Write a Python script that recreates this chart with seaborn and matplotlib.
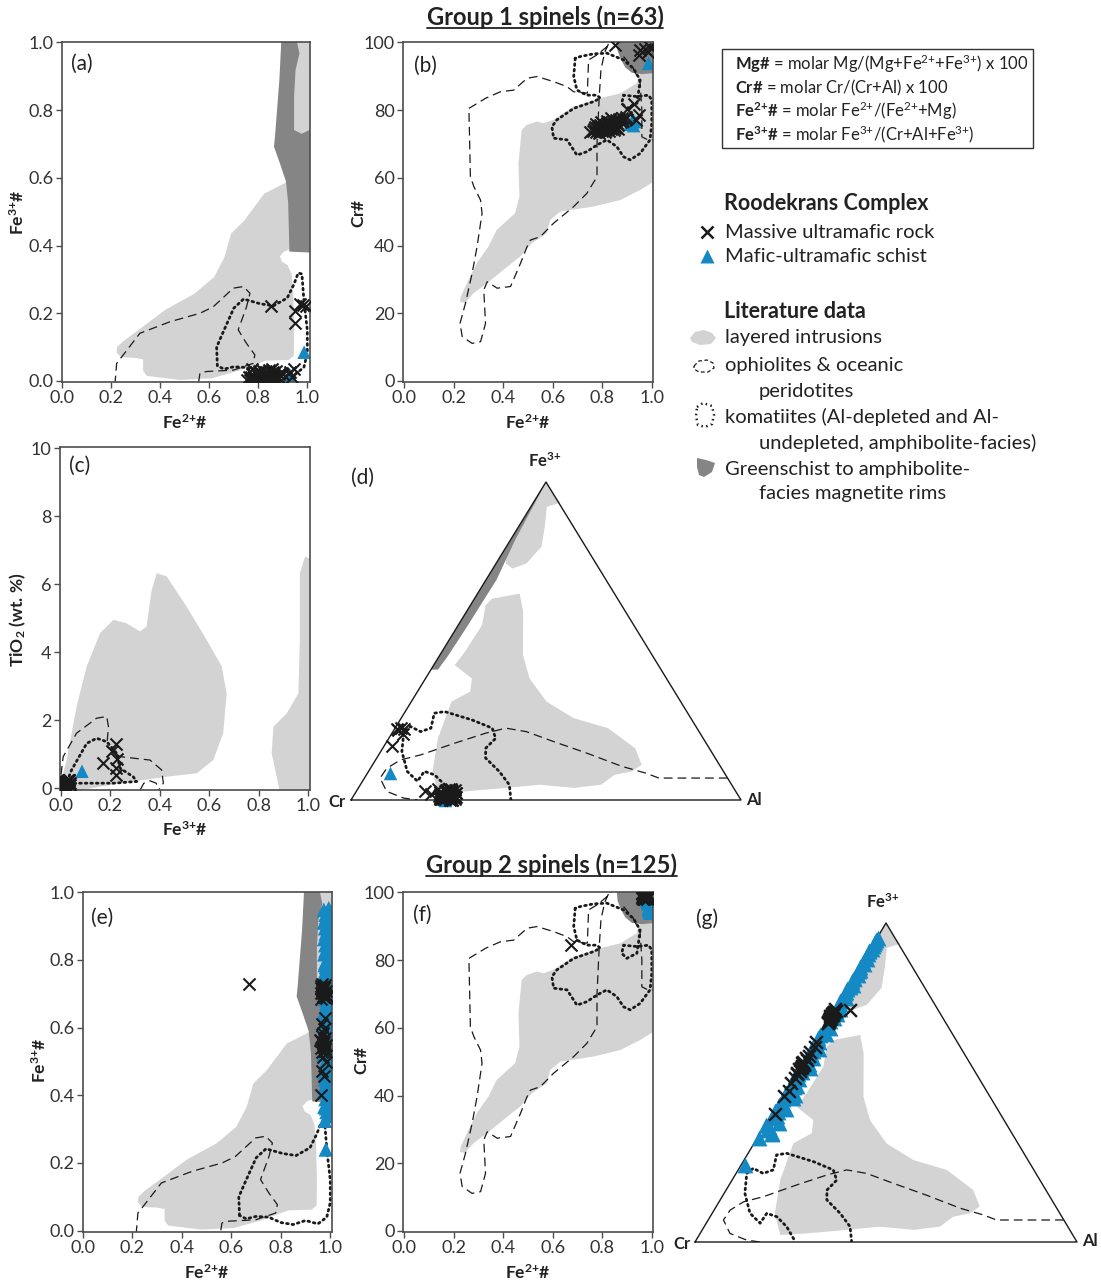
import numpy as np
import pandas as pd
import matplotlib
matplotlib.use("Agg")
import matplotlib.pyplot as plt
import seaborn as sns
from matplotlib.patches import Polygon, Rectangle

# ---------------------------------------------------------------------------
# Roodekrans Complex spinel analyses
# ---------------------------------------------------------------------------
# Group 1 spinels - massive ultramafic rock
g1_mur_fe2 = [0.752, 0.761, 0.768, 0.774, 0.779, 0.783, 0.786, 0.790, 0.793, 0.797,
              0.801, 0.804, 0.807, 0.811, 0.814, 0.818, 0.821, 0.824, 0.828, 0.831,
              0.834, 0.838, 0.842, 0.845, 0.849, 0.852, 0.856, 0.861, 0.865, 0.869,
              0.874, 0.879, 0.884, 0.891, 0.897, 0.776, 0.795, 0.812, 0.829, 0.847,
              0.862, 0.803, 0.788, 0.836, 0.857, 0.771, 0.819,
              0.902, 0.928, 0.947, 0.938,
              0.852, 0.948, 0.951, 0.972, 0.993, 0.984]
g1_mur_fe3 = [0.004, 0.012, 0.002, 0.021, 0.008, 0.015, 0.001, 0.026, 0.006, 0.018,
              0.010, 0.003, 0.024, 0.013, 0.031, 0.007, 0.019, 0.000, 0.028, 0.011,
              0.016, 0.005, 0.033, 0.009, 0.022, 0.014, 0.002, 0.027, 0.017, 0.006,
              0.030, 0.012, 0.020, 0.004, 0.025, 0.035, 0.003, 0.010, 0.023, 0.001,
              0.015, 0.029, 0.008, 0.018, 0.034, 0.013, 0.006,
              0.020, 0.028, 0.035, 0.012,
              0.222, 0.208, 0.170, 0.226, 0.221, 0.224]
g1_mur_cr = [73.4, 73.9, 74.5, 73.6, 74.8, 75.3, 74.1, 75.7, 74.4, 75.1,
             73.8, 76.0, 74.9, 75.5, 74.2, 76.3, 75.0, 74.6, 76.6, 75.4,
             74.3, 76.0, 75.2, 76.9, 75.7, 74.8, 77.1, 76.2, 75.6, 77.4,
             76.5, 77.8, 76.9, 77.3, 78.0, 75.9, 76.4, 73.5, 73.7, 74.0,
             74.5, 74.7, 73.2, 77.6, 75.1, 74.9, 76.8,
             80.2, 81.8, 78.6, 77.2,
             99.2, 96.3, 97.6, 98.1, 98.6, 97.0]
g1_mur_ti = [0.05, 0.12, 0.03, 0.18, 0.08, 0.15, 0.02, 0.21, 0.06, 0.10,
             0.14, 0.04, 0.19, 0.09, 0.24, 0.07, 0.16, 0.01, 0.22, 0.11,
             0.13, 0.05, 0.25, 0.08, 0.17, 0.12, 0.03, 0.20, 0.14, 0.06,
             0.23, 0.10, 0.18, 0.04, 0.21, 0.15, 0.02, 0.09, 0.19, 0.03,
             0.11, 0.22, 0.07, 0.16, 0.13, 0.10, 0.05,
             0.15, 0.20, 0.10, 0.08,
             1.30, 1.10, 0.75, 0.85, 0.60, 0.40]

# Group 1 spinels - mafic-ultramafic schist
g1_sch_fe2 = [0.918, 0.924, 0.912, 0.931, 0.927, 0.987]
g1_sch_fe3 = [0.004, 0.010, 0.001, 0.016, 0.007, 0.085]
g1_sch_cr = [76.2, 77.1, 75.8, 76.6, 75.4, 93.8]
g1_sch_ti = [0.05, 0.12, 0.15, 0.08, 0.02, 0.50]

# Group 2 spinels - massive ultramafic rock
g2_mur_fe2 = [0.962, 0.975, 0.968, 0.981, 0.971, 0.966, 0.978, 0.963, 0.984, 0.970,
              0.974, 0.960, 0.979, 0.967, 0.972, 0.976, 0.965, 0.980, 0.961, 0.973,
              0.969, 0.977, 0.964, 0.982, 0.970, 0.966, 0.975, 0.961, 0.979, 0.968,
              0.983, 0.972, 0.963, 0.977, 0.969, 0.974, 0.985, 0.967, 0.976, 0.964,
              0.673]
g2_mur_fe3 = [0.402, 0.458, 0.472, 0.498, 0.513, 0.527, 0.536, 0.541, 0.548, 0.552,
              0.557, 0.563, 0.569, 0.576, 0.584, 0.597, 0.612, 0.628, 0.686, 0.691,
              0.695, 0.699, 0.703, 0.707, 0.711, 0.714, 0.718, 0.722, 0.725, 0.729,
              0.688, 0.702, 0.716, 0.545, 0.555, 0.531, 0.694, 0.708, 0.721, 0.560,
              0.728]
g2_mur_cr = [98.6, 99.2, 98.1, 99.5, 98.8, 99.0, 98.3, 99.6, 98.9, 99.3,
             98.5, 99.7, 98.2, 99.1, 98.7, 99.4, 98.0, 99.2, 98.4, 99.5,
             98.9, 99.0, 98.6, 99.8, 98.3, 99.1, 98.8, 99.4, 98.0, 99.6,
             98.5, 99.3, 98.7, 99.0, 98.2, 99.5, 98.9, 99.2, 98.4, 99.7,
             84.5]

# Group 2 spinels - mafic-ultramafic schist
g2_sch_fe2 = [0.982, 0.978, 0.991, 0.985, 0.976, 0.993, 0.981, 0.988, 0.975, 0.990,
              0.984, 0.979, 0.994, 0.977, 0.986, 0.992, 0.980, 0.989, 0.974, 0.987,
              0.995, 0.983, 0.978, 0.991, 0.976, 0.985, 0.993, 0.980, 0.988, 0.975,
              0.990, 0.982, 0.996, 0.979, 0.986, 0.977, 0.992, 0.984, 0.981, 0.989,
              0.974, 0.994, 0.983, 0.978, 0.987, 0.991, 0.976, 0.985, 0.993, 0.980,
              0.988, 0.975, 0.990, 0.982, 0.996, 0.979, 0.986, 0.977, 0.992, 0.984,
              0.981, 0.989, 0.974, 0.994, 0.983, 0.978, 0.987, 0.991, 0.976, 0.985,
              0.993, 0.980, 0.988, 0.975, 0.990, 0.982, 0.996, 0.979, 0.986, 0.977,
              0.992, 0.984, 0.981, 0.989]
g2_sch_fe3 = [0.240, 0.325, 0.338, 0.351, 0.366, 0.372, 0.389, 0.394, 0.412, 0.418,
              0.431, 0.447, 0.452, 0.468, 0.474, 0.489, 0.497, 0.512, 0.521, 0.533,
              0.546, 0.552, 0.567, 0.578, 0.584, 0.598, 0.606, 0.619, 0.627, 0.641,
              0.652, 0.663, 0.671, 0.684, 0.692, 0.705, 0.716, 0.724, 0.738, 0.745,
              0.757, 0.766, 0.779, 0.785, 0.798, 0.806, 0.817, 0.823, 0.836, 0.844,
              0.853, 0.862, 0.871, 0.878, 0.886, 0.894, 0.903, 0.911, 0.918, 0.927,
              0.934, 0.941, 0.948, 0.953, 0.362, 0.428, 0.487, 0.557, 0.608, 0.674,
              0.731, 0.792, 0.849, 0.912, 0.343, 0.409, 0.461, 0.528, 0.589, 0.648,
              0.701, 0.769, 0.828, 0.889]
g2_sch_cr = [98.7, 99.1, 95.2, 97.8, 99.4, 94.6, 98.3, 97.1, 99.5, 95.0,
             97.9, 98.8, 94.3, 99.2, 97.4, 95.5, 98.5, 96.9, 99.6, 97.2,
             94.1, 98.0, 99.0, 95.3, 99.3, 97.6, 94.8, 98.4, 97.0, 99.4,
             95.4, 98.1, 94.2, 98.9, 97.5, 99.1, 95.1, 97.7, 98.2, 96.8,
             99.5, 94.5, 98.0, 99.0, 97.3, 95.2, 99.2, 97.9, 94.7, 98.6,
             97.0, 99.3, 95.6, 98.3, 94.0, 98.8, 97.4, 99.1, 95.0, 97.8,
             98.2, 96.9, 99.5, 94.4, 98.1, 98.9, 97.2, 95.3, 99.3, 97.6,
             94.9, 98.5, 97.1, 99.4, 95.5, 98.0, 94.3, 98.7, 97.5, 99.0,
             95.1, 97.8, 98.4, 96.7]

# ---------------------------------------------------------------------------
# Literature fields
# ---------------------------------------------------------------------------
# Fe2+# vs Fe3+#
fe_layered = [(0.224, 0.100), (0.250, 0.118), (0.310, 0.150), (0.420, 0.210), (0.540, 0.258),
              (0.620, 0.307), (0.662, 0.366), (0.689, 0.435), (0.743, 0.474), (0.824, 0.553),
              (0.905, 0.583), (0.935, 0.600), (0.935, 0.390), (0.905, 0.382), (0.888, 0.368),
              (0.897, 0.352), (0.920, 0.342), (0.936, 0.315), (0.943, 0.250), (0.946, 0.150),
              (0.945, 0.075), (0.925, 0.062), (0.830, 0.060), (0.720, 0.030), (0.610, 0.008),
              (0.480, 0.003), (0.345, 0.015), (0.330, 0.030), (0.330, 0.064), (0.300, 0.068),
              (0.240, 0.070), (0.222, 0.084)]
fe_layered_top = [(0.952, 1.02), (0.968, 0.967), (0.952, 0.918), (0.946, 0.840), (0.946, 0.741),
                  (0.977, 0.730), (1.02, 0.745), (1.02, 1.02)]
fe_rims = [(0.895, 1.02), (0.886, 0.889), (0.868, 0.721), (0.864, 0.692), (0.888, 0.643),
           (0.913, 0.589), (0.922, 0.525), (0.927, 0.382), (1.02, 0.379), (1.02, 1.02)]
fe_ophiolite = [(0.215, -0.01), (0.222, 0.052), (0.249, 0.077), (0.317, 0.141), (0.440, 0.175),
                (0.562, 0.200), (0.616, 0.219), (0.698, 0.274), (0.739, 0.279), (0.766, 0.259),
                (0.752, 0.219), (0.718, 0.151), (0.752, 0.111), (0.786, 0.077), (0.779, 0.052),
                (0.698, 0.032), (0.589, 0.028), (0.562, 0.023), (0.555, -0.01)]
fe_komatiite = [(0.633, 0.045), (0.630, 0.100), (0.660, 0.150), (0.700, 0.215), (0.740, 0.242),
                (0.808, 0.228), (0.862, 0.222), (0.918, 0.245), (0.945, 0.285), (0.963, 0.319),
                (0.978, 0.316), (0.986, 0.239), (1.000, 0.150), (1.000, 0.083), (0.986, 0.040),
                (0.950, 0.020), (0.900, 0.030), (0.850, 0.018), (0.800, 0.024), (0.750, 0.040),
                (0.700, 0.042), (0.660, 0.035), (0.633, 0.045)]

# Fe2+# vs Cr#
cr_layered = [(0.226, 23.4), (0.229, 24.9), (0.260, 29.8), (0.293, 34.7), (0.341, 39.7),
              (0.374, 44.6), (0.448, 49.5), (0.466, 54.4), (0.462, 64.3), (0.475, 74.1),
              (0.495, 75.6), (0.536, 76.6), (0.563, 76.1), (0.603, 77.1), (0.684, 81.0),
              (0.791, 83.5), (0.872, 84.9), (0.939, 87.9), (0.953, 90.8), (1.02, 91.3),
              (1.02, 59.4), (0.953, 56.4), (0.872, 53.4), (0.764, 51.5), (0.630, 50.0),
              (0.590, 47.5), (0.583, 45.6), (0.576, 43.6), (0.515, 40.6), (0.468, 36.7),
              (0.401, 32.8), (0.334, 28.8), (0.280, 25.9), (0.246, 23.0)]
cr_rims = [(0.858, 101), (0.862, 97.5), (0.875, 95.0), (0.893, 92.6), (0.920, 91.0),
           (0.960, 90.6), (1.02, 91.0), (1.02, 101)]
cr_ophiolite = [(0.262, 80.5), (0.330, 83.5), (0.389, 85.4), (0.443, 85.9), (0.497, 89.4),
                (0.537, 89.9), (0.604, 88.4), (0.658, 86.9), (0.685, 85.4), (0.740, 85.0),
                (0.745, 94.8), (0.779, 96.3), (0.819, 98.7), (0.848, 101), (0.834, 101),
                (0.810, 97.0), (0.795, 92.0), (0.788, 84.0), (0.779, 70.0), (0.779, 60.3),
                (0.738, 55.4), (0.685, 51.5), (0.604, 46.6), (0.550, 42.6), (0.510, 41.6),
                (0.497, 39.7), (0.470, 34.7), (0.430, 27.9), (0.376, 27.4), (0.336, 29.3),
                (0.322, 26.9), (0.329, 17.0), (0.309, 11.6), (0.275, 11.1), (0.235, 13.1),
                (0.226, 17.0), (0.248, 22.9), (0.275, 31.8), (0.295, 39.7), (0.315, 49.5),
                (0.309, 53.4), (0.282, 57.4), (0.268, 60.3), (0.262, 80.5)]
cr_ophiolite_b = [(0.886, 95.8), (0.926, 92.3), (0.953, 88.0), (0.960, 80.0), (0.960, 72.1),
                  (0.990, 71.0), (1.02, 71.5)]
cr_komatiite = [(0.691, 95.3), (0.685, 89.9), (0.698, 85.9), (0.738, 84.4), (0.779, 84.4),
                (0.792, 83.5), (0.765, 82.5), (0.685, 80.5), (0.617, 77.1), (0.597, 75.1),
                (0.604, 71.7), (0.658, 71.2), (0.698, 66.7), (0.738, 67.7), (0.779, 69.7),
                (0.819, 71.2), (0.859, 69.2), (0.886, 66.2), (0.913, 65.3), (0.953, 67.2),
                (0.993, 71.2), (1.000, 76.0), (1.000, 83.0), (0.987, 84.4), (0.940, 84.0),
                (0.886, 84.4), (0.879, 82.0), (0.899, 80.5), (0.940, 82.0), (0.946, 84.9),
                (0.953, 88.9), (0.926, 92.3), (0.886, 94.8), (0.819, 96.8), (0.765, 96.6),
                (0.711, 95.8), (0.691, 95.3)]

# Fe3+# vs TiO2
ti_layered = [(0.003, -0.1), (0.003, 0.3), (0.023, 0.83), (0.063, 2.40), (0.104, 3.58),
              (0.158, 4.56), (0.212, 4.95), (0.265, 4.85), (0.319, 4.61), (0.346, 4.75),
              (0.367, 5.83), (0.387, 6.32), (0.427, 6.23), (0.508, 5.34), (0.589, 4.36),
              (0.650, 3.58), (0.670, 2.79), (0.656, 1.62), (0.616, 0.83), (0.549, 0.44),
              (0.427, 0.34), (0.292, 0.20), (0.158, 0.05), (0.050, -0.1)]
ti_layered_b = [(0.885, -0.1), (0.852, 1.03), (0.859, 1.81), (0.913, 2.20), (0.960, 2.79),
                (0.966, 4.36), (0.966, 6.32), (0.987, 6.81), (1.02, 6.70), (1.02, -0.1)]
ti_ophiolite = [(0.000, 0.40), (0.009, 0.93), (0.063, 1.62), (0.144, 2.06), (0.185, 2.11),
                (0.192, 1.81), (0.185, 1.23), (0.239, 0.93), (0.360, 0.83), (0.407, 0.54),
                (0.414, 0.15), (0.395, -0.05)]
ti_ophiolite_b = [(0.320, -0.05), (0.335, 0.15), (0.360, 0.22), (0.385, 0.15), (0.395, -0.05)]
ti_komatiite = [(0.016, 0.05), (0.043, 0.54), (0.104, 1.32), (0.144, 1.47), (0.185, 1.37),
                (0.225, 1.03), (0.239, 0.59), (0.292, 0.34), (0.306, 0.20), (0.212, 0.15),
                (0.063, 0.15), (0.030, 0.08), (0.016, 0.05)]

# Cr - Al - Fe3+ ternary, given as (Fe3+, Al) molar fractions
tern_layered = [(0.633, 0.045), (0.649, 0.108), (0.591, 0.146), (0.456, 0.213), (0.382, 0.267),
                (0.309, 0.347), (0.257, 0.443), (0.226, 0.546), (0.163, 0.647), (0.111, 0.690),
                (0.090, 0.675), (0.079, 0.636), (0.048, 0.617), (0.038, 0.553), (0.048, 0.460),
                (0.038, 0.378), (0.027, 0.279), (0.022, 0.212), (0.090, 0.164), (0.194, 0.126),
                (0.309, 0.103), (0.341, 0.135), (0.382, 0.119), (0.424, 0.054), (0.466, 0.059),
                (0.550, 0.061), (0.612, 0.039)]
tern_layered_top = [(1.000, 0.000), (0.950, 0.050), (0.935, 0.070), (0.922, 0.041), (0.860, 0.067),
                    (0.797, 0.090), (0.744, 0.078), (0.728, 0.050), (0.744, 0.025), (0.780, 0.010),
                    (0.850, 0.004), (0.950, 0.000)]
tern_rims = [(0.410, 0.000), (0.410, 0.018), (0.451, 0.022), (0.545, 0.025), (0.629, 0.026),
             (0.692, 0.027), (0.750, 0.020), (0.818, 0.012), (0.943, 0.004), (1.000, 0.000)]
tern_ophiolite = [(0.069, 0.931), (0.069, 0.755), (0.085, 0.712), (0.106, 0.641), (0.147, 0.532),
                  (0.184, 0.427), (0.215, 0.342), (0.226, 0.284), (0.210, 0.240), (0.179, 0.177),
                  (0.142, 0.108), (0.126, 0.064), (0.100, 0.042), (0.069, 0.040), (0.027, 0.078),
                  (0.006, 0.132), (0.000, 0.170)]
tern_komatiite = [(0.000, 0.410), (0.048, 0.382), (0.090, 0.335), (0.132, 0.279), (0.163, 0.264),
                  (0.194, 0.274), (0.226, 0.249), (0.252, 0.184), (0.278, 0.101), (0.273, 0.077),
                  (0.226, 0.092), (0.215, 0.071), (0.231, 0.037), (0.215, 0.028), (0.153, 0.054),
                  (0.090, 0.099), (0.059, 0.141), (0.090, 0.143), (0.079, 0.175), (0.048, 0.216),
                  (0.000, 0.263)]

# ---------------------------------------------------------------------------
W, H, DPI = 1101, 1285, 100
LIGHT = "#d3d3d3"
DARK = "#858585"
BLUE = "#1489c4"
INK = "#1a1a1a"
AXC = "#4d4d4d"

sns.set_style("ticks")
plt.rcParams["font.family"] = ["Lato", "DejaVu Sans"]
plt.rcParams["mathtext.fontset"] = "custom"
plt.rcParams["mathtext.rm"] = "Lato"
plt.rcParams["mathtext.bf"] = "Lato:bold"
plt.rcParams["mathtext.it"] = "Lato:italic"
plt.rcParams["text.color"] = "#222222"

fig = plt.figure(figsize=(W / DPI, H / DPI), dpi=DPI)

# overlay in pixel units for headings, labels and the key (drawn above the panels)
ov = fig.add_axes([0, 0, 1, 1], zorder=10)
ov.set_xlim(0, W)
ov.set_ylim(H, 0)
ov.axis("off")


def panel(left, top, width, height):
    return fig.add_axes([left / W, 1 - (top + height) / H, width / W, height / H], zorder=2)


def pts(pairs):
    a = np.asarray(pairs, dtype=float)
    return a[:, 0], a[:, 1]


def fill(ax, pairs, color, z=1):
    x, y = pts(pairs)
    ax.fill(x, y, color=color, lw=0, zorder=z)


def dashed(ax, pairs):
    x, y = pts(pairs)
    ax.plot(x, y, color=INK, lw=0.9, ls=(0, (7, 4)), zorder=3)


def dotted(ax, pairs):
    x, y = pts(pairs)
    ax.plot(x, y, color=INK, lw=2.0, ls=(0, (0.6, 1.4)), dash_capstyle="round", zorder=3)


def style_box(ax, xlim, ylim, xticks, yticks, xfmt, yfmt):
    ax.set_xlim(*xlim)
    ax.set_ylim(*ylim)
    ax.set_xticks(xticks)
    ax.set_yticks(yticks)
    ax.set_xticklabels([xfmt.format(v) for v in xticks])
    ax.set_yticklabels([yfmt.format(v) for v in yticks])
    for s in ax.spines.values():
        s.set_visible(True)
        s.set_color(AXC)
        s.set_linewidth(1.2)
        s.set_zorder(6)
    ax.tick_params(direction="out", length=4, width=1.0, color=AXC, labelsize=13,
                   labelcolor="#333333", pad=2)
    ax.set_xlabel("")
    ax.set_ylabel("")


def tern_from_fields(pairs):
    fe, al = pts(pairs)
    return al + fe / 2.0, fe


def tern_fill(ax, pairs, color, z=1):
    x, y = tern_from_fields(pairs)
    ax.fill(x, y, color=color, lw=0, zorder=z)


def tern_points(fe3, cr):
    fe3 = np.asarray(fe3, dtype=float)
    cr = np.asarray(cr, dtype=float) / 100.0
    al = (1 - fe3) * (1 - cr)
    return pd.DataFrame({"x": al + fe3 / 2.0, "y": fe3})


def scatter_x(ax, x, y, s=75):
    sns.scatterplot(x=x, y=y, ax=ax, marker="x", color=INK, s=s, linewidth=1.5,
                    legend=False, zorder=7)


def scatter_tri(ax, x, y, s=95):
    sns.scatterplot(x=x, y=y, ax=ax, marker="^", color=BLUE, s=s, linewidth=0,
                    edgecolor="none", legend=False, zorder=6)


def fe_fields(ax):
    fill(ax, fe_layered, LIGHT, 1)
    fill(ax, fe_rims, DARK, 2)
    fill(ax, fe_layered_top, LIGHT, 2)
    dashed(ax, fe_ophiolite)
    dotted(ax, fe_komatiite)


def cr_fields(ax):
    fill(ax, cr_layered, LIGHT, 1)
    fill(ax, cr_rims, DARK, 2)
    dashed(ax, cr_ophiolite)
    dashed(ax, cr_ophiolite_b)
    dotted(ax, cr_komatiite)


def tern_frame(ax):
    ax.set_xlim(0, 1)
    ax.set_ylim(0, 1)
    ax.axis("off")
    tern_fill(ax, tern_layered, LIGHT, 1)
    tern_fill(ax, tern_layered_top, LIGHT, 1)
    tern_fill(ax, tern_rims, DARK, 2)
    x, y = tern_from_fields(tern_ophiolite)
    ax.plot(x, y, color=INK, lw=0.9, ls=(0, (7, 4)), zorder=3)
    x, y = tern_from_fields(tern_komatiite)
    ax.plot(x, y, color=INK, lw=2.0, ls=(0, (0.6, 1.4)), dash_capstyle="round", zorder=3)
    ax.plot([0, 1, 0.5, 0], [0, 0, 1, 0], color=INK, lw=1.0, zorder=4, clip_on=False)


fmt1 = "{:.1f}"
fmt0 = "{:.0f}"
ticks01 = [0.0, 0.2, 0.4, 0.6, 0.8, 1.0]
cr_ticks = [0, 20, 40, 60, 80, 100]

# (a) Group 1: Fe2+# vs Fe3+#
ax_a = panel(62, 42, 248, 340)
fe_fields(ax_a)
scatter_x(ax_a, g1_mur_fe2, g1_mur_fe3)
scatter_tri(ax_a, g1_sch_fe2, g1_sch_fe3)
style_box(ax_a, (-0.001, 1.011), (-0.003, 1.001), ticks01, ticks01, fmt1, fmt1)

# (b) Group 1: Fe2+# vs Cr#
ax_b = panel(403, 42, 250, 340)
cr_fields(ax_b)
scatter_x(ax_b, g1_mur_fe2, g1_mur_cr)
scatter_tri(ax_b, g1_sch_fe2, g1_sch_cr)
style_box(ax_b, (-0.004, 1.005), (-0.3, 100.1), ticks01, cr_ticks, fmt1, fmt0)

# (c) Group 1: Fe3+# vs TiO2
ax_c = panel(60, 447, 250, 343)
fill(ax_c, ti_layered, LIGHT, 1)
fill(ax_c, ti_layered_b, LIGHT, 1)
dashed(ax_c, ti_ophiolite)
dashed(ax_c, ti_ophiolite_b)
dotted(ax_c, ti_komatiite)
scatter_x(ax_c, g1_mur_fe3, g1_mur_ti)
scatter_tri(ax_c, g1_sch_fe3, g1_sch_ti)
style_box(ax_c, (-0.004, 1.007), (-0.05, 10.03), ticks01, [0, 2, 4, 6, 8, 10], fmt1, fmt0)

# (d) Group 1: Cr - Al - Fe3+ ternary
ax_d = panel(351, 482, 390, 318)
tern_frame(ax_d)
d_x = tern_points(g1_mur_fe3, g1_mur_cr)
d_t = tern_points(g1_sch_fe3, g1_sch_cr)
sns.scatterplot(data=d_x, x="x", y="y", ax=ax_d, marker="x", color=INK, s=75, linewidth=1.5,
                legend=False, zorder=7, clip_on=False)
sns.scatterplot(data=d_t, x="x", y="y", ax=ax_d, marker="^", color=BLUE, s=95, linewidth=0,
                legend=False, zorder=6, clip_on=False)

# (e) Group 2: Fe2+# vs Fe3+#
ax_e = panel(83, 892, 249, 340)
fe_fields(ax_e)
scatter_tri(ax_e, g2_sch_fe2, g2_sch_fe3, s=110)
scatter_x(ax_e, g2_mur_fe2, g2_mur_fe3)
style_box(ax_e, (0.0, 1.007), (-0.004, 1.001), ticks01, ticks01, fmt1, fmt1)

# (f) Group 2: Fe2+# vs Cr#
ax_f = panel(403, 892, 250, 340)
cr_fields(ax_f)
scatter_tri(ax_f, g2_sch_fe2, g2_sch_cr, s=110)
scatter_x(ax_f, g2_mur_fe2, g2_mur_cr)
style_box(ax_f, (-0.004, 1.005), (-0.3, 100.1), ticks01, cr_ticks, fmt1, fmt0)

# (g) Group 2: Cr - Al - Fe3+ ternary
ax_g = panel(695, 923, 382, 319)
tern_frame(ax_g)
g_x = tern_points(g2_mur_fe3, g2_mur_cr)
g_t = tern_points(g2_sch_fe3, g2_sch_cr)
sns.scatterplot(data=g_t, x="x", y="y", ax=ax_g, marker="^", color=BLUE, s=130, linewidth=0,
                legend=False, zorder=6, clip_on=False)
sns.scatterplot(data=g_x, x="x", y="y", ax=ax_g, marker="x", color=INK, s=85, linewidth=1.7,
                legend=False, zorder=7, clip_on=False)
for ax in (ax_d, ax_g):
    ax.set_xlim(0, 1)
    ax.set_ylim(0, 1)
    ax.axis("off")

# ---------------------------------------------------------------------------
# Text: panel tags, axis labels, ternary apices
LAB = dict(fontsize=12.5, fontweight="bold", color="#222222", ha="center", va="center")
FE2 = r"$\mathbf{Fe^{2{+}}\#}$"
FE3 = r"$\mathbf{Fe^{3{+}}\#}$"
CRN = r"$\mathbf{Cr\#}$"

ov.text(185, 423, FE2, **LAB)
ov.text(18, 212, FE3, rotation=90, **LAB)
ov.text(528, 423, FE2, **LAB)
ov.text(359, 213, CRN, rotation=90, **LAB)
ov.text(185, 830, FE3, **LAB)
ov.text(18, 620, r"$\mathbf{TiO_2}$ (wt. %)", rotation=90, **LAB)
ov.text(207, 1273, FE2, **LAB)
ov.text(40, 1060, FE3, rotation=90, **LAB)
ov.text(528, 1273, FE2, **LAB)
ov.text(362, 1060, CRN, rotation=90, **LAB)

TAG = dict(fontsize=15, color="#222222", ha="center", va="center")
for tag, (tx, ty) in {"(a)": (82, 64), "(b)": (425, 66), "(c)": (80, 466), "(d)": (363, 478),
                      "(e)": (102, 918), "(f)": (422, 915), "(g)": (707, 919)}.items():
    ov.text(tx, ty, tag, **TAG)

APX = dict(fontsize=12, fontweight="bold", color="#222222", ha="center", va="center")
ov.text(545, 461, r"$\mathbf{Fe^{3{+}}}$", **APX)
ov.text(337, 802, "Cr", **APX)
ov.text(754, 800, "Al", **APX)
ov.text(883, 902, r"$\mathbf{Fe^{3{+}}}$", **APX)
ov.text(682, 1244, "Cr", **APX)
ov.text(1090, 1241, "Al", **APX)

# group headings, underlined
heads = [ov.text(545, 17, "Group 1 spinels (n=63)", fontsize=17, fontweight="bold",
                 ha="center", va="center", color="#222222"),
         ov.text(551, 865, "Group 2 spinels (n=125)", fontsize=17, fontweight="bold",
                 ha="center", va="center", color="#222222")]

# definitions box
ov.add_patch(Rectangle((722, 49), 311, 99, fill=False, ec="#333333", lw=1.0))
BOXT = dict(fontsize=12, color="#222222", ha="left", va="center")
ov.text(735, 64, r"$\mathbf{Mg\#}$ = molar Mg/(Mg+Fe$^{2{+}}$+Fe$^{3{+}}$) x 100", **BOXT)
ov.text(735, 88, r"$\mathbf{Cr\#}$ = molar Cr/(Cr+Al) x 100", **BOXT)
ov.text(735, 111, r"$\mathbf{Fe^{2{+}}\#}$ = molar Fe$^{2{+}}$/(Fe$^{2{+}}$+Mg)", **BOXT)
ov.text(735, 134, r"$\mathbf{Fe^{3{+}}\#}$ = molar Fe$^{3{+}}$/(Cr+Al+Fe$^{3{+}}$)", **BOXT)

# key
KEY = dict(fontsize=14.5, color="#222222", ha="left", va="center")
HEAD = dict(fontsize=15.5, fontweight="bold", color="#222222", ha="left", va="center")
ov.text(724, 204, "Roodekrans Complex", **HEAD)
ov.plot([707], [232], marker="x", ms=8, mew=1.8, color=INK, ls="none")
ov.text(725, 232, "Massive ultramafic rock", **KEY)
ov.plot([707], [256], marker="^", ms=10, color=BLUE, mec="none", ls="none")
ov.text(725, 257, "Mafic-ultramafic schist", **KEY)
ov.text(724, 311, "Literature data", **HEAD)
ov.add_patch(Polygon([(690, 338), (695, 332), (704, 330), (712, 333), (716, 338), (711, 344),
                      (700, 345), (692, 342)], closed=True, fc=LIGHT, ec="none"))
ov.text(725, 338, "layered intrusions", **KEY)
ov.add_patch(Polygon([(694, 366), (699, 361), (707, 360), (713, 363), (714, 368), (708, 372),
                      (699, 372), (694, 369)], closed=True, fill=False, ec=INK, lw=0.9,
                     ls=(0, (3, 2))))
ov.text(725, 365, "ophiolites & oceanic", **KEY)
ov.text(759, 391, "peridotites", **KEY)
ov.add_patch(Polygon([(697, 407), (703, 403), (712, 406), (714, 415), (712, 424), (705, 427),
                      (698, 425), (696, 416)], closed=True, fill=False, ec=INK, lw=1.8,
                     ls=(0, (0.6, 1.4))))
ov.text(725, 417, "komatiites (Al-depleted and Al-", **KEY)
ov.text(759, 443, "undepleted, amphibolite-facies)", **KEY)
ov.add_patch(Polygon([(697, 458), (706, 460), (715, 463), (712, 472), (704, 477), (699, 475),
                      (697, 467)], closed=True, fc=DARK, ec="none"))
ov.text(725, 469, "Greenschist to amphibolite-", **KEY)
ov.text(759, 494, "facies magnetite rims", **KEY)

# underline the group headings
fig.canvas.draw()
inv = ov.transData.inverted()
for t in heads:
    bb = t.get_window_extent()
    (x0, y0), (x1, y1) = inv.transform([(bb.x0, bb.y0), (bb.x1, bb.y1)])
    ov.plot([x0, x1], [y0 - 1, y0 - 1], color="#222222", lw=1.3)

fig.savefig("out.png", dpi=DPI)
